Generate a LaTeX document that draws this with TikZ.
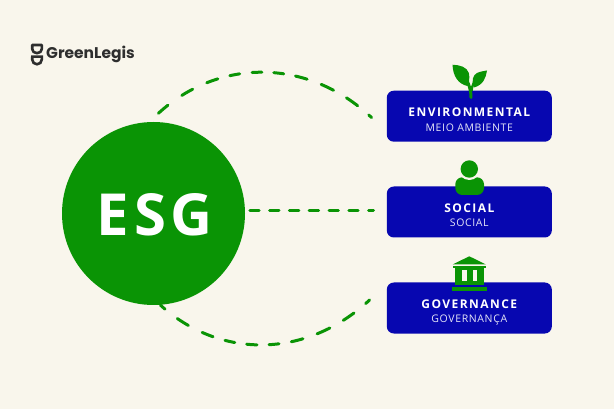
\documentclass[tikz,border=0pt]{standalone}
\usepackage{fontspec}
\setmainfont{Open Sans}
\newfontfamily\logofont{Poppins}
\definecolor{bgc}{HTML}{F9F6EC}
\definecolor{gr}{HTML}{0A9405}
\definecolor{bl}{HTML}{0707B0}
\definecolor{lg}{HTML}{2E2E2E}
\tikzset{
  x=1pt,y=-1pt,
  hub/.style={circle,fill=gr,draw=none,minimum size=183pt,inner sep=0pt},
  topicbox/.style={rectangle,rounded corners=7pt,fill=bl,draw=none,minimum width=165pt,minimum height=51pt,inner sep=0pt},
  link/.style={draw=gr,line width=3pt,line cap=round},
  ttl/.style={text=white,font=\fontsize{12}{14}\selectfont\bfseries\addfontfeature{LetterSpace=12}},
  sub/.style={text=white!90!bl,font=\fontsize{10.5}{12}\selectfont\addfontfeature{LetterSpace=6}},
  icon/.style={fill=gr,draw=none}
}
\begin{document}
\begin{tikzpicture}
\useasboundingbox (0,0) rectangle (614,409);
\fill[bgc] (0,0) rectangle (614,409);
% connectors
\coordinate (t0) at (158.4,113.3);
\coordinate (t1) at (371.6,117.6);
\coordinate (b0) at (160.5,305.2);
\coordinate (b1) at (369.6,300);
\coordinate (m0) at (249.8,210.3);
\coordinate (m1) at (373.5,210.3);
\draw[link,dash pattern=on 12.5pt off 17pt on 12.5pt off 15.5pt on 11.7pt off 12.5pt on 10pt off 12.5pt on 9.7pt off 12pt on 10pt off 12pt on 12pt off 15pt on 13.7pt off 15pt on 13.7pt off 14.5pt on 5pt off 100pt]
  (t0) .. controls (219,57.8) and (308,57.8) .. (t1);
\draw[link,dash pattern=on 6pt off 15.5pt on 13pt off 15.5pt on 11.7pt off 12.5pt on 10pt off 12pt on 10.4pt off 12pt on 10pt off 12.5pt on 12pt off 15pt on 14pt off 15.5pt on 13pt off 15pt on 5.5pt off 100pt]
  (b0) .. controls (220,359) and (306,359) .. (b1);
\draw[link,dash pattern=on 9.4pt off 10.4pt] (m0) -- (m1);
% hub
\node[hub] (esg) at (153.5,213.5) {};
\node[text=white,font=\fontsize{58}{62}\selectfont\bfseries\addfontfeature{LetterSpace=8}] (esgt) at (154.8,215) {ESG};
% logo
\node[anchor=west,text=lg,font=\logofont\fontsize{15.5}{18}\selectfont\bfseries,inner sep=0pt] (logo) at (46,54.5) {GreenLegis};
\draw[lg,line width=2.6pt,line join=round] (32.2,45) -- (41.8,45) -- (41.8,49) arc (0:180:4.8 and 4.2) -- cycle;
\draw[lg,line width=2.6pt] (31,56.6) -- (41.8,56.6) -- (41.8,59.5) arc (0:180:4.8 and 4.8) -- (32.2,56.6);
% boxes
\node[topicbox] (envb) at (469.3,116.2) {};
\node[topicbox] (socb) at (469.3,212) {};
\node[topicbox] (govb) at (469.3,308) {};
\node[ttl] (envt) at (469.3,112) {ENVIRONMENTAL};
\node[sub] (envs) at (469.3,127.5) {MEIO AMBIENTE};
\node[ttl] (soct) at (469.3,208) {SOCIAL};
\node[sub] (socs) at (469.3,223) {SOCIAL};
\node[ttl] (govt) at (469.3,304) {GOVERNANCE};
\node[sub] (govs) at (469.3,319.5) {GOVERNANÇA};
% leaf
\draw[gr,line width=3pt,line cap=round] (471,97.5) .. controls (471,92) and (470,87) .. (466,78);
\draw[gr,line width=2.4pt] (471.5,91) .. controls (472,85) and (474,82) .. (478,78);
\fill[icon] (452.5,64.7) .. controls (460,65) and (467,67) .. (468.8,73) .. controls (470,78) and (469,83) .. (467.5,86) .. controls (458,84) and (453,76) .. (452.5,64.7) -- cycle;
\fill[icon] (487,70.5) .. controls (486,78) and (483,85) .. (474,87.5) .. controls (471,81) and (473,75) .. (477,73) .. controls (480,71.5) and (484,71) .. (487,70.5) -- cycle;
% person
\fill[icon,rounded corners=7pt] (455.3,195) -- (455.3,177.3) -- (484,177.3) -- (484,195) -- cycle;
\fill[bgc] (469.3,169) circle (11);
\fill[icon] (469.3,169) circle (8.7);
% bank
\fill[icon] (469.3,256.3) -- (486,264.5) -- (452.5,264.5) -- cycle;
\fill[icon] (453,266) rectangle (485.5,268);
\fill[icon] (455,268) rectangle (483.5,285.5);
\fill[bgc] (462,270.5) rectangle (466.5,281);
\fill[bgc] (472.5,270.5) rectangle (477,281);
\fill[icon] (452,287.5) rectangle (487,291);
\end{tikzpicture}
\end{document}
